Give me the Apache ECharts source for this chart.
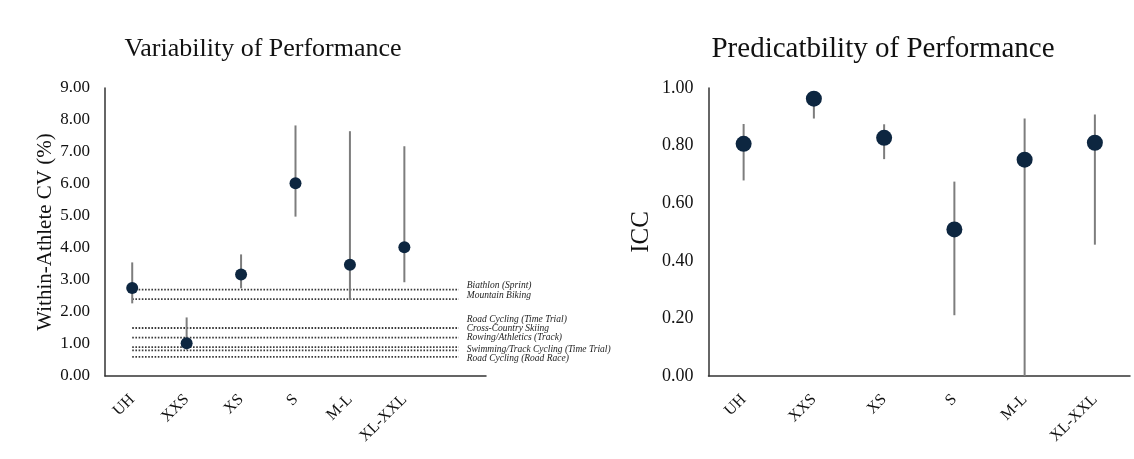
<!DOCTYPE html>
<html>
<head>
<meta charset="utf-8">
<script src="https://cdn.jsdelivr.net/npm/echarts@6/dist/echarts.min.js"></script>
<style>
html,body{margin:0;padding:0;background:#fff;}
#chart{width:1134px;height:459px;}
</style>
</head>
<body>
<div id="chart"></div>
<script>
// ---- Data ----
const cvCategories = ['UH', 'XXS', 'XS', 'S', 'M-L', 'XL-XXL', ''];
const cvValues = [2.75, 1.02, 3.17, 6.02, 3.48, 4.02];
const cvLow = [2.27, 0.82, 2.74, 4.98, 2.38, 2.93];
const cvHigh = [3.55, 1.83, 3.80, 7.83, 7.65, 7.18];

const refNames = ['Biathlon (Sprint)', 'Mountain Biking', 'Road Cycling (Time Trial)', 'Cross-Country Skiing',
  'Rowing/Athletics (Track)', 'Swimming/Track Cycling (Time Trial)', 'Road Cycling (Road Race)'];
const refValues = [2.7, 2.4, 0.9, 1.5, 1.2, 0.8, 0.6];

const iccCategories = ['UH', 'XXS', 'XS', 'S', 'M-L', 'XL-XXL'];
const iccValues = [0.806, 0.963, 0.827, 0.509, 0.751, 0.810];
const iccLow = [0.679, 0.894, 0.753, 0.211, 0.0, 0.456];
const iccHigh = [0.875, 0.975, 0.874, 0.675, 0.894, 0.908];

const cvTicks = { min: 0, max: 9, interval: 1 };
const iccTicks = { min: 0, max: 1, interval: 0.2 };

// ---- Styles ----
const SERIF = '"Liberation Serif", "DejaVu Serif", serif';
const DOT = '#0d2640';
const BAR = '#7d7d7d';
const refLabelDy = [-4, -4, -28, 0, 0, -1, 2];

function errorBars(xIdx, low, high) {
  return {
    type: 'custom',
    xAxisIndex: xIdx, yAxisIndex: xIdx,
    z: 3,
    silent: true,
    encode: { x: 0, y: [1, 2] },
    data: low.map((l, i) => [i, l, high[i]]),
    renderItem: function (params, api) {
      const x = api.value(0);
      const a = api.coord([x, api.value(1)]);
      const b = api.coord([x, api.value(2)]);
      return {
        type: 'line',
        shape: { x1: a[0], y1: a[1], x2: b[0], y2: b[1] },
        style: { stroke: BAR, lineWidth: 2 }
      };
    }
  };
}

function dots(xIdx, vals, size) {
  return {
    type: 'scatter',
    xAxisIndex: xIdx, yAxisIndex: xIdx,
    z: 5,
    symbol: 'circle',
    symbolSize: size,
    itemStyle: { color: DOT, opacity: 1 },
    data: vals.map((v, i) => [i, v])
  };
}

const refSeries = refNames.map((name, k) => ({
  type: 'line',
  name: name,
  xAxisIndex: 0, yAxisIndex: 0,
  z: 2,
  silent: true,
  symbol: 'none',
  lineStyle: { color: '#3a3a3a', width: 1.8, type: [1.6, 1.6] },
  data: [[0, refValues[k]], [cvCategories.length - 1, refValues[k]]],
  endLabel: {
    show: true,
    formatter: name,
    distance: 8,
    offset: [0, refLabelDy[k]],
    fontFamily: SERIF,
    fontStyle: 'italic',
    fontSize: 9.5,
    color: '#222'
  },
  labelLayout: { hideOverlap: false }
}));

function catAxis(gridIndex, cats) {
  return {
    type: 'category',
    gridIndex: gridIndex,
    data: cats,
    boundaryGap: true,
    axisLine: { show: true, lineStyle: { color: '#333', width: 1.5 } },
    axisTick: { show: false },
    axisLabel: {
      rotate: 45,
      interval: 0,
      margin: 21,
      fontFamily: SERIF,
      fontSize: 16,
      color: '#111'
    },
    splitLine: { show: false }
  };
}

function valAxis(gridIndex, t, name, nameSize, nameGap, labelSize) {
  return {
    type: 'value',
    gridIndex: gridIndex,
    min: t.min, max: t.max, interval: t.interval,
    name: name,
    nameLocation: 'middle',
    nameGap: nameGap,
    nameRotate: 90,
    nameTextStyle: { fontFamily: SERIF, fontSize: nameSize, color: '#111' },
    axisLine: { show: true, lineStyle: { color: '#333', width: 1.5 } },
    axisTick: { show: false },
    splitLine: { show: false },
    axisLabel: {
      margin: 15,
      fontFamily: SERIF,
      fontSize: labelSize,
      color: '#111',
      formatter: v => v.toFixed(2)
    }
  };
}

const option = {
  backgroundColor: '#fff',
  animation: false,
  title: [
    { text: 'Variability of Performance', left: 258, top: 31, textAlign: 'center',
      textStyle: { fontFamily: SERIF, fontSize: 26, fontWeight: 'normal', color: '#111' } },
    { text: 'Predicatbility of Performance', left: 878, top: 30, textAlign: 'center',
      textStyle: { fontFamily: SERIF, fontSize: 29, fontWeight: 'normal', color: '#111' } }
  ],
  grid: [
    { left: 105, width: 381, top: 88, height: 288 },
    { left: 708.5, width: 421.5, top: 88, height: 288 }
  ],
  xAxis: [catAxis(0, cvCategories), catAxis(1, iccCategories)],
  yAxis: [
    valAxis(0, cvTicks, 'Within-Athlete CV (%)', 21, 48, 17),
    valAxis(1, iccTicks, 'ICC', 25, 55, 18)
  ],
  series: [
    ...refSeries,
    errorBars(0, cvLow, cvHigh),
    dots(0, cvValues, 12),
    errorBars(1, iccLow, iccHigh),
    dots(1, iccValues, 16)
  ]
};

const chart = echarts.init(document.getElementById('chart'), null, { renderer: 'canvas' });
chart.setOption(option);
</script>
</body>
</html>
